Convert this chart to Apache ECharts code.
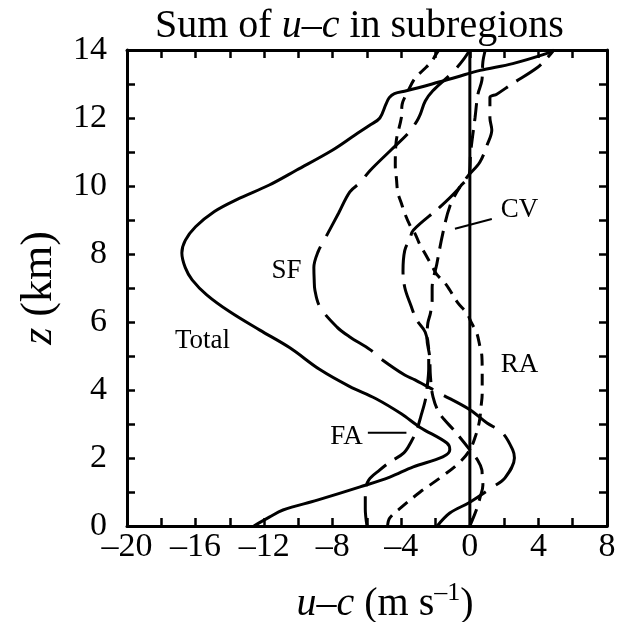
<!DOCTYPE html>
<html><head><meta charset="utf-8">
<script src="https://cdn.jsdelivr.net/npm/echarts@6/dist/echarts.min.js"></script>
<style>html,body{margin:0;padding:0;background:#fff}#c{width:622px;height:622px}</style>
</head><body><div id="c"></div><script>
// ---- data (z in km, u-c in m/s) ----
const totalZ = [0.0, 0.26, 0.47, 0.76, 1.15, 1.44, 1.74, 2.03, 2.24, 2.44, 2.9, 3.3, 3.75, 4.1, 4.6, 5.24, 5.76, 6.3, 6.8, 7.24, 7.6, 8.03, 8.4, 8.8, 9.25, 9.6, 10.03, 10.47, 11.06, 11.5, 11.8, 12.0, 12.4, 12.6, 12.72, 12.8, 13.0, 13.2, 13.4, 13.6, 13.9, 14.0];
const totalU = [-12.6, -11.7, -10.9, -8.9, -6.4, -4.67, -3.3, -1.58, -1.17, -1.34, -2.9, -4.0, -5.5, -7.0, -8.75, -10.5, -12.25, -14.0, -15.35, -16.2, -16.6, -16.8, -16.6, -16.0, -14.9, -13.6, -11.7, -10.1, -8.0, -6.7, -5.8, -5.25, -4.9, -4.7, -4.4, -3.7, -2.2, -0.8, 0.6, 2.5, 4.5, 4.9];

const sfZ = [0.0, 0.38, 0.7, 1.15, 1.41, 2.0, 2.24, 2.74, 3.03, 3.42, 3.9, 4.3, 4.44, 4.94, 5.18, 5.56, 5.85, 6.45, 6.94, 7.24, 7.6, 8.07, 8.5, 9.2, 9.83, 10.1, 10.45, 11.06, 11.55, 11.9, 12.1, 12.5, 12.8, 13.2, 13.4, 13.7, 14.0];
const sfU = [-1.9, -1.17, 0.0, 1.34, 2.04, 2.6, 2.5, 1.9, 1.0, 0.0, -1.75, -3.2, -3.8, -5.25, -5.8, -7.0, -7.75, -8.75, -9.04, -9.08, -9.1, -8.85, -8.4, -7.66, -7.0, -6.4, -5.83, -4.6, -3.6, -3.1, -2.9, -2.6, -2.16, -1.3, -0.9, -0.4, 0.0];

const faZ = [0.0, 0.5, 1.0, 1.35, 1.65, 1.88, 2.15, 2.5, 2.82, 3.24, 3.7, 4.05, 4.63, 5.2, 5.7, 6.06, 6.5, 7.0, 7.5, 8.1, 8.45, 8.7, 9.38, 9.9, 10.3, 10.7, 11.2, 11.65, 12.0, 12.6, 12.7, 13.0, 13.47, 13.76, 14.0];
const faU = [-6.0, -6.1, -6.1, -5.9, -5.25, -4.67, -3.85, -3.4, -3.1, -2.85, -2.6, -2.5, -2.4, -2.4, -2.6, -3.1, -3.45, -3.79, -3.9, -3.8, -3.5, -3.3, -1.75, -0.7, -0.1, 0.58, 1.0, 1.28, 1.17, 1.17, 1.57, 2.45, 3.9, 4.5, 4.9];

const cvZ = [0.0, 0.5, 0.85, 1.2, 1.5, 1.65, 1.94, 2.24, 2.8, 3.3, 3.8, 4.4, 5.0, 5.5, 5.97, 6.26, 6.65, 7.0, 7.7, 8.6, 9.4, 9.97, 10.3, 11.0, 12.0, 12.7, 13.1, 13.65, 14.0];
const cvU = [0.0, 0.4, 0.6, 0.76, 0.72, 0.7, 0.45, 0.0, -0.9, -1.75, -2.15, -2.3, -2.35, -2.5, -2.45, -2.3, -2.2, -2.2, -1.93, -1.58, -1.17, -0.58, -0.05, 0.05, 0.3, 0.47, 0.7, 0.76, 0.9];

const raZ = [0.0, 0.24, 0.56, 1.0, 1.41, 1.88, 2.24, 2.6, 3.06, 3.5, 3.9, 4.5, 5.0, 5.3, 5.68, 5.97, 6.26, 6.56, 6.94, 7.15, 7.4, 7.6, 8.0, 8.26, 8.6, 8.85, 9.2, 9.5, 9.8, 10.2, 10.6, 11.3, 12.0, 12.4, 12.8, 13.17, 13.41, 13.65, 13.85, 14.0];
const raU = [-4.8, -4.67, -3.97, -2.9, -1.75, -0.58, 0.0, 0.3, 0.55, 0.65, 0.72, 0.72, 0.7, 0.58, 0.4, 0.1, -0.18, -0.7, -1.17, -1.46, -1.93, -2.16, -2.6, -2.9, -3.2, -3.5, -3.8, -4.0, -4.2, -4.28, -4.35, -4.3, -4.0, -3.95, -3.6, -3.2, -2.72, -2.25, -2.0, -1.8];

const zeroLineU = [0, 0];
const zeroLineZ = [0, 14];

const labelNames = ['Total', 'SF', 'CV', 'RA', 'FA'];
const labelU = [-15.6, -10.7, 2.9, 2.9, -7.2];
const labelZ = [5.44, 7.5, 9.3, 4.74, 2.62];

const cvLeaderU = [1.28, -0.87];
const cvLeaderZ = [9.03, 8.74];
const faLeaderU = [-5.95, -3.7];
const faLeaderZ = [2.74, 2.74];

const xTicks = [-20, -16, -12, -8, -4, 0, 4, 8];
const yTicks = [0, 2, 4, 6, 8, 10, 12, 14];

// ---- build ----
const pairs = (u, z) => u.map((v, i) => [v, z[i]]);
const FONT = 'Liberation Serif';
const black = '#000';

function curve(name, u, z, type) {
  return {
    name, type: 'line', data: pairs(u, z), smooth: 0.35, symbol: 'none',
    lineStyle: { color: black, width: 3, type: type, cap: 'butt' },
    silent: true, z: 3
  };
}

const axisCommon = {
  type: 'value',
  axisLine: { show: true, onZero: false, lineStyle: { color: black, width: 3 } },
  axisTick: { show: true, inside: true, length: 8, lineStyle: { color: black, width: 2.5 } },
  minorTick: { show: true, splitNumber: 2, length: 8, lineStyle: { color: black, width: 2.5 } },
  splitLine: { show: false },
  minorSplitLine: { show: false }
};

const fmt = v => String(v).replace('-', '\u2013');
const txt = (size, extra) => Object.assign({ fontFamily: FONT, fontSize: size, color: black, fontWeight: 'normal' }, extra || {});

const option = {
  animation: false,
  backgroundColor: '#fff',
  title: {
    text: '{a|Sum of }{b|u\u2013c}{a| in subregions}',
    left: 150, top: 1,
    textStyle: { fontWeight: 'normal', rich: {
      a: txt(40),
      b: txt(40, { fontStyle: 'italic' })
    } }
  },
  grid: { left: 127, right: 15, top: 50, bottom: 96, containLabel: false, outerBoundsMode: 'none' },
  xAxis: [
    Object.assign({}, axisCommon, {
      position: 'bottom', min: xTicks[0], max: xTicks[xTicks.length - 1], interval: xTicks[1] - xTicks[0],
      axisLabel: { show: true, margin: 4, fontFamily: FONT, fontSize: 34, color: black, formatter: fmt },
      name: '{i|u\u2013c}{n| (m s}{s|\u20131}{n|)}',
      nameLocation: 'middle', nameGap: 54,
      nameTextStyle: { fontWeight: 'normal', padding: [0, 0, 0, 36], rich: {
        i: txt(40, { fontStyle: 'italic' }),
        n: txt(40),
        s: txt(26, { padding: [0, 0, 22, 0] })
      } }
    }),
    Object.assign({}, axisCommon, {
      position: 'top', min: xTicks[0], max: xTicks[xTicks.length - 1], interval: xTicks[1] - xTicks[0],
      axisLabel: { show: false }
    })
  ],
  yAxis: [
    Object.assign({}, axisCommon, {
      position: 'left', min: yTicks[0], max: yTicks[yTicks.length - 1], interval: yTicks[1] - yTicks[0],
      axisLabel: { show: true, margin: 20, fontFamily: FONT, fontSize: 34, color: black, formatter: fmt },
      name: '{i|z}{n| (km)}',
      nameLocation: 'middle', nameRotate: 90, nameGap: 66,
      nameTextStyle: { fontWeight: 'normal', rich: {
        i: txt(44, { fontStyle: 'italic' }),
        n: txt(44)
      } }
    }),
    Object.assign({}, axisCommon, {
      position: 'right', min: yTicks[0], max: yTicks[yTicks.length - 1], interval: yTicks[1] - yTicks[0],
      axisLabel: { show: false }
    })
  ],
  series: [
    {
      name: 'zero', type: 'line', data: pairs(zeroLineU, zeroLineZ), symbol: 'none', silent: true,
      lineStyle: { color: black, width: 3 }, z: 2
    },
    curve('Total', totalU, totalZ, 'solid'),
    curve('SF', sfU, sfZ, [60, 12]),
    curve('FA', faU, faZ, [30, 10]),
    curve('CV', cvU, cvZ, [18, 9]),
    curve('RA', raU, raZ, [12, 8]),
    {
      name: 'cvLeader', type: 'line', data: pairs(cvLeaderU, cvLeaderZ), symbol: 'none', silent: true,
      lineStyle: { color: black, width: 2 }
    },
    {
      name: 'faLeader', type: 'line', data: pairs(faLeaderU, faLeaderZ), symbol: 'none', silent: true,
      lineStyle: { color: black, width: 2 }
    },
    {
      name: 'labels', type: 'scatter', symbolSize: 0, silent: true,
      data: labelNames.map((n, i) => ({ value: [labelU[i], labelZ[i]], name: n })),
      itemStyle: { opacity: 1, color: black },
      label: { show: true, position: 'inside', formatter: p => p.name,
        fontFamily: FONT, fontSize: 27, color: '#000', opacity: 1,
        textBorderWidth: 0, textBorderColor: 'transparent' },
      emphasis: { disabled: true }
    }
  ]
};

const chart = echarts.init(document.getElementById('c'), null, { renderer: 'canvas' });
chart.setOption(option);
</script></body></html>
